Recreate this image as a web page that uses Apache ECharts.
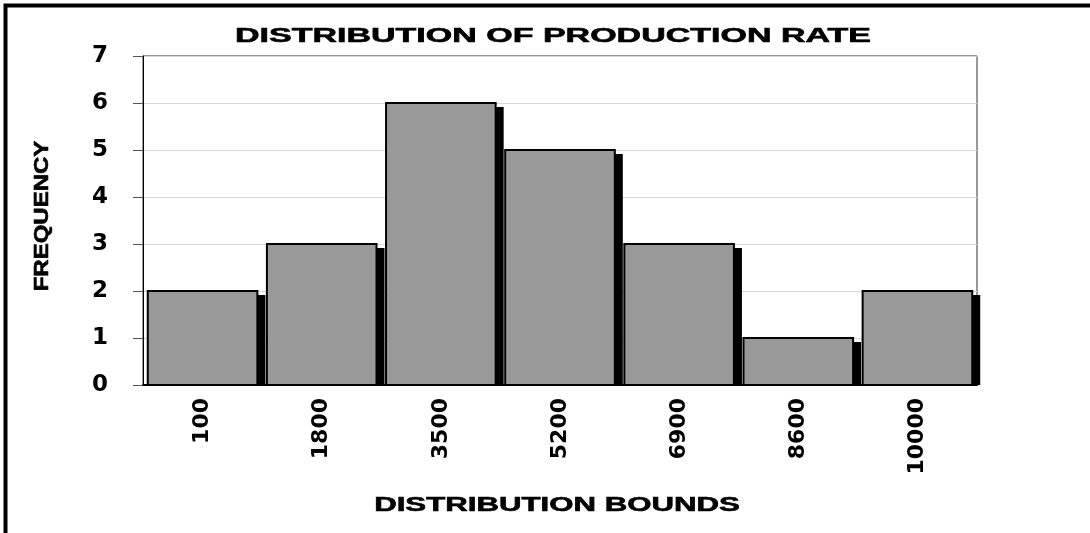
<!DOCTYPE html>
<html>
<head>
<meta charset="utf-8">
<script src="https://cdn.jsdelivr.net/npm/echarts@6/dist/echarts.min.js"></script>
<style>
  html, body { margin: 0; padding: 0; background: #fff; }
  #chart { width: 1090px; height: 533px; }
</style>
</head>
<body>
<div id="chart"></div>
<script>
const categories = ["100", "1800", "3500", "5200", "6900", "8600", "10000"];
const frequency = [2, 3, 6, 5, 3, 1, 2];
const yTicks = [0, 1, 2, 3, 4, 5, 6, 7];

const chart = echarts.init(document.getElementById("chart"));

// stretched bold text, like the original export
const boldFont = {
  fontWeight: "bold",
  fontFamily: "Liberation Sans",
  fontSize: 20,
  fill: "#000",
  stroke: "#000",
  lineWidth: 0.6
};

const option = {
  animation: false,
  backgroundColor: "#fff",
  grid: {
    left: 143,
    right: 113,
    top: 56,
    bottom: 148,
    show: true,
    borderColor: "#333",
    borderWidth: 1
  },
  xAxis: {
    type: "category",
    data: categories,
    axisLine: {lineStyle: {color: "#000", width: 2}},
    axisTick: {length: 7, lineStyle: {color: "#555"}},
    axisLabel: {
      rotate: 90,
      margin: 13,
      color: "#000",
      fontFamily: "DejaVu Sans",
      fontWeight: "bold",
      fontSize: 22
    }
  },
  yAxis: {
    type: "value",
    min: yTicks[0],
    max: yTicks[yTicks.length - 1],
    interval: 1,
    axisLine: {show: true, lineStyle: {color: "#000", width: 1}},
    axisTick: {show: true, length: 10, lineStyle: {color: "#555"}},
    axisLabel: {
      margin: 35,
      color: "#000",
      fontFamily: "DejaVu Sans",
      fontWeight: "bold",
      fontSize: 23
    },
    splitLine: {lineStyle: {color: "#d9d9d9", width: 1}}
  },
  series: [
    {
      type: "custom",
      data: frequency.map((v, i) => [i, v]),
      encode: {x: 0, y: 1},
      renderItem: function (params, api) {
        const top = api.coord([api.value(0), api.value(1)]);
        const base = api.coord([api.value(0), 0]);
        const w = api.size([1, 0])[0] * 0.92;
        const x = top[0] - w / 2;
        const h = base[1] - top[1];
        return {
          type: "group",
          children: [
            {
              type: "rect",
              shape: {x: x + 8, y: top[1] + 4, width: w, height: h - 4},
              style: {fill: "#000"}
            },
            {
              type: "rect",
              shape: {x: x, y: top[1], width: w, height: h},
              style: {fill: "#999999", stroke: "#000", lineWidth: 2}
            }
          ]
        };
      }
    }
  ],
  graphic: [
    {
      type: "rect",
      shape: {x: 5.5, y: 5.5, width: 1200, height: 800},
      style: {fill: "none", stroke: "#000", lineWidth: 4},
      silent: true
    },
    {
      type: "text",
      x: 553,
      y: 36,
      scaleX: 1.7,
      style: Object.assign({text: "DISTRIBUTION OF PRODUCTION RATE", align: "center", verticalAlign: "middle"}, boldFont)
    },
    {
      type: "text",
      x: 557,
      y: 505,
      scaleX: 1.56,
      style: Object.assign({text: "DISTRIBUTION BOUNDS", align: "center", verticalAlign: "middle"}, boldFont)
    },
    {
      type: "text",
      x: 42,
      y: 216,
      rotation: Math.PI / 2,
      scaleX: 1.2,
      style: Object.assign({text: "FREQUENCY", align: "center", verticalAlign: "middle"}, boldFont)
    }
  ]
};

chart.setOption(option);
</script>
</body>
</html>
